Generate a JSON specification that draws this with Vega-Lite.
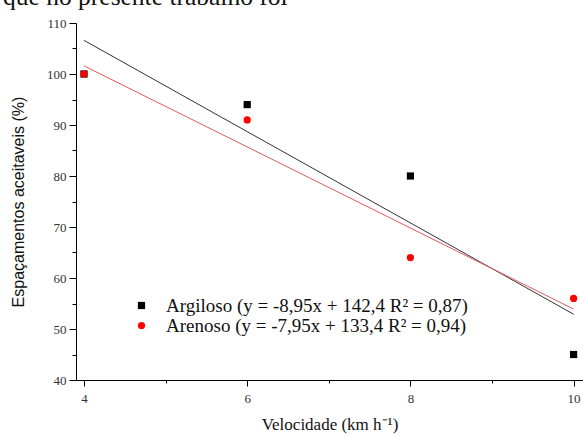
{
  "$schema": "https://vega.github.io/schema/vega-lite/v6.json",
  "width": 507,
  "height": 357,
  "autosize": {"type": "none"},
  "padding": {"left": 76, "top": 23, "right": 0, "bottom": 55},
  "background": "white",
  "config": {"view": {"stroke": null}, "font": "Liberation Serif"},
  "title": {
    "text": "que no presente trabalho foi",
    "anchor": "start",
    "frame": "group",
    "dx": -73,
    "dy": 13,
    "offset": 0,
    "fontSize": 25.5,
    "fontWeight": "normal",
    "font": "Liberation Serif",
    "color": "#111111",
    "baseline": "alphabetic"
  },
  "datasets": {
    "pontos": [
      {"solo": "Argiloso (y = -8,95x + 142,4 R² = 0,87)", "velocidade": 4, "espacamento": 100},
      {"solo": "Argiloso (y = -8,95x + 142,4 R² = 0,87)", "velocidade": 6, "espacamento": 94},
      {"solo": "Argiloso (y = -8,95x + 142,4 R² = 0,87)", "velocidade": 8, "espacamento": 80},
      {"solo": "Argiloso (y = -8,95x + 142,4 R² = 0,87)", "velocidade": 10, "espacamento": 45},
      {"solo": "Arenoso (y = -7,95x + 133,4 R² = 0,94)", "velocidade": 4, "espacamento": 100},
      {"solo": "Arenoso (y = -7,95x + 133,4 R² = 0,94)", "velocidade": 6, "espacamento": 91},
      {"solo": "Arenoso (y = -7,95x + 133,4 R² = 0,94)", "velocidade": 8, "espacamento": 64},
      {"solo": "Arenoso (y = -7,95x + 133,4 R² = 0,94)", "velocidade": 10, "espacamento": 56}
    ],
    "retas": [
      {"solo": "Argiloso", "velocidade": 4, "espacamento": 106.6},
      {"solo": "Argiloso", "velocidade": 10, "espacamento": 52.9},
      {"solo": "Arenoso", "velocidade": 4, "espacamento": 101.6},
      {"solo": "Arenoso", "velocidade": 10, "espacamento": 53.9}
    ]
  },
  "layer": [
    {
      "data": {"name": "retas"},
      "transform": [{"filter": "datum.solo === 'Argiloso'"}],
      "mark": {"type": "line", "strokeWidth": 1, "color": "#333333"},
      "encoding": {
        "x": {
          "field": "velocidade",
          "type": "quantitative",
          "scale": {"domain": [3.902, 10.115], "nice": false, "zero": false},
          "axis": {
            "orient": "bottom",
            "values": [5, 7, 9],
            "labels": false,
            "domain": false,
            "grid": false,
            "tickSize": 3,
            "tickColor": "#000000",
            "title": null
          }
        },
        "y": {
          "field": "espacamento",
          "type": "quantitative",
          "scale": {"domain": [40, 110], "nice": false, "zero": false},
          "axis": {
            "orient": "left",
            "values": [45, 55, 65, 75, 85, 95, 105],
            "labels": false,
            "domain": false,
            "grid": false,
            "tickSize": 4,
            "tickColor": "#000000",
            "title": null
          }
        }
      }
    },
    {
      "data": {"name": "retas"},
      "transform": [{"filter": "datum.solo === 'Arenoso'"}],
      "mark": {"type": "line", "strokeWidth": 1, "color": "#e05a5a"},
      "encoding": {
        "x": {
          "field": "velocidade",
          "type": "quantitative",
          "scale": {"domain": [3.902, 10.115], "nice": false, "zero": false},
          "axis": null
        },
        "y": {
          "field": "espacamento",
          "type": "quantitative",
          "scale": {"domain": [40, 110], "nice": false, "zero": false},
          "axis": null
        }
      }
    },
    {
      "data": {"name": "pontos"},
      "mark": {"type": "point", "filled": true, "opacity": 1, "size": 52},
      "encoding": {
        "x": {
          "field": "velocidade",
          "type": "quantitative",
          "scale": {"domain": [3.902, 10.115], "nice": false, "zero": false},
          "axis": {
            "orient": "bottom",
            "values": [4, 6, 8, 10],
            "format": "d",
            "grid": false,
            "tickSize": 6,
            "tickColor": "#000000",
            "domainColor": "#000000",
            "labelFont": "Liberation Serif",
            "labelFontSize": 13,
            "labelColor": "#333333",
            "labelPadding": 6,
            "title": "Velocidade (km h⁻¹)",
            "titleFont": "Liberation Serif",
            "titleFontSize": 17,
            "titleFontWeight": "normal",
            "titleColor": "#111111",
            "titlePadding": 11
          }
        },
        "y": {
          "field": "espacamento",
          "type": "quantitative",
          "scale": {"domain": [40, 110], "nice": false, "zero": false},
          "axis": {
            "orient": "left",
            "values": [40, 50, 60, 70, 80, 90, 100, 110],
            "grid": false,
            "tickSize": 7,
            "tickColor": "#000000",
            "domainColor": "#000000",
            "labelFont": "Liberation Serif",
            "labelFontSize": 13,
            "labelColor": "#333333",
            "labelPadding": 3,
            "title": "Espaçamentos aceitaveis (%)",
            "titleFont": "Liberation Sans",
            "titleFontSize": 16,
            "titleFontWeight": "normal",
            "titleColor": "#111111",
            "titlePadding": 20
          }
        },
        "color": {
          "field": "solo",
          "type": "nominal",
          "scale": {
            "domain": ["Argiloso (y = -8,95x + 142,4 R² = 0,87)", "Arenoso (y = -7,95x + 133,4 R² = 0,94)"],
            "range": ["#000000", "#ff0000"]
          },
          "legend": {
            "orient": "none",
            "legendX": 56,
            "legendY": 273,
            "padding": 0,
            "title": null,
            "labelFont": "Liberation Serif",
            "labelFontSize": 19,
            "labelColor": "#111111",
            "labelLimit": 500,
            "labelOffset": 15,
            "rowPadding": -2,
            "symbolSize": 52,
            "symbolStrokeWidth": 0
          }
        },
        "shape": {
          "field": "solo",
          "type": "nominal",
          "scale": {
            "domain": ["Argiloso (y = -8,95x + 142,4 R² = 0,87)", "Arenoso (y = -7,95x + 133,4 R² = 0,94)"],
            "range": ["square", "circle"]
          }
        }
      }
    }
  ],
  "resolve": {"axis": {"x": "independent", "y": "independent"}}
}
